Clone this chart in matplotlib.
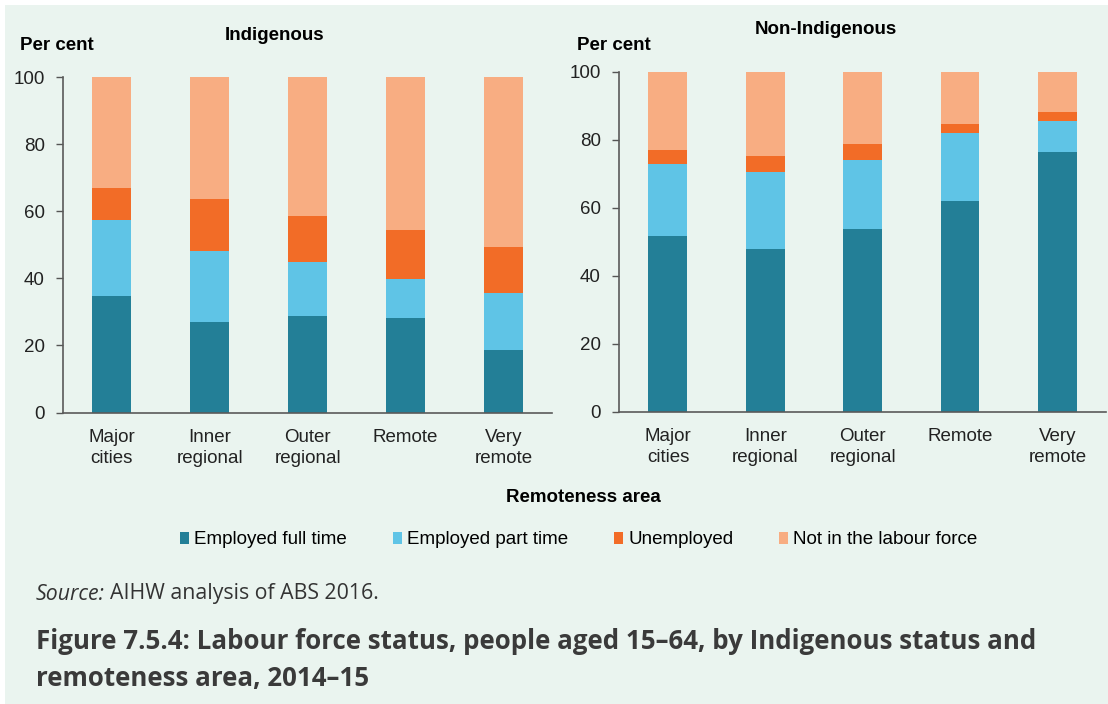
import numpy as np
import matplotlib.pyplot as plt
from matplotlib.patches import Patch, Rectangle

areas = ["Major\ncities", "Inner\nregional", "Outer\nregional", "Remote", "Very\nremote"]
series = ["Employed full time", "Employed part time", "Unemployed", "Not in the labour force"]
colors = ["#237f97", "#5fc4e6", "#f26c27", "#f8ad82"]

# per cent of people aged 15-64 in each labour force group
indig_ft = [34.8, 27.1, 28.9, 28.2, 18.5]
indig_pt = [22.5, 21.1, 16.1, 11.6, 17.0]
indig_un = [9.6, 15.4, 13.5, 14.7, 13.7]
indig_nlf = [33.1, 36.4, 41.5, 45.5, 50.8]

non_ft = [51.6, 47.7, 53.8, 61.9, 76.3]
non_pt = [21.2, 22.9, 20.1, 20.1, 9.1]
non_un = [4.1, 4.7, 4.7, 2.5, 2.6]
non_nlf = [23.1, 24.7, 21.4, 15.5, 12.0]

bg = "#eaf4ef"
fs = 13.5
plt.rcParams["font.family"] = ["Liberation Sans", "DejaVu Sans"]

W, H = 1108, 704
fig = plt.figure(figsize=(W / 100, H / 100), dpi=100, facecolor="white")
fig.patches.append(Rectangle((5 / W, 0), 1 - 5 / W, 1 - 5 / H,
                             transform=fig.transFigure, facecolor=bg,
                             edgecolor="none", zorder=-10))

ax1 = fig.add_axes([62.7 / W, 1 - 412.5 / H, 489 / W, 335.5 / H])
ax2 = fig.add_axes([619 / W, 1 - 411.5 / H, 487 / W, 339.8 / H])


def stacked(ax, parts, xlim, width):
    x = np.arange(len(areas))
    bottom = np.zeros(len(areas))
    for vals, c in zip(parts, colors):
        ax.bar(x, vals, width, bottom=bottom, color=c, edgecolor="none")
        bottom += np.array(vals)
    ax.set_xlim(*xlim)
    ax.set_ylim(0, 100)
    ax.set_yticks(range(0, 101, 20))
    ax.set_xticks(x)
    ax.set_xticklabels(areas, fontsize=fs, color="#222222", linespacing=1.32)
    ax.tick_params(axis="x", length=0, pad=12)
    ax.tick_params(axis="y", length=5, width=1, color="#555555",
                   labelsize=fs, labelcolor="#222222", pad=8)
    ax.set_facecolor("none")
    for s in ["top", "right"]:
        ax.spines[s].set_visible(False)
    for s in ["left", "bottom"]:
        ax.spines[s].set_color("#5a5a5a")
        ax.spines[s].set_linewidth(1.2)


stacked(ax1, [indig_ft, indig_pt, indig_un, indig_nlf], (-0.50, 4.49), 0.40)
stacked(ax2, [non_ft, non_pt, non_un, non_nlf], (-0.503, 4.50), 0.40)

fig.text(20 / W, 1 - 46 / H, "Per cent", fontsize=fs, fontweight="bold", va="center")
fig.text(275 / W, 1 - 36 / H, "Indigenous", fontsize=fs, fontweight="bold",
         ha="center", va="center")
fig.text(577 / W, 1 - 45 / H, "Per cent", fontsize=fs, fontweight="bold", va="center")
fig.text(826 / W, 1 - 30 / H, "Non-Indigenous", fontsize=fs, fontweight="bold",
         ha="center", va="center")
fig.text(583 / W, 1 - 498 / H, "Remoteness area", fontsize=fs, fontweight="bold",
         ha="center", va="center")

handles = [Patch(facecolor=c, edgecolor="none") for c in colors]
fig.legend(handles, series, loc="center", bbox_to_anchor=(579 / W, 1 - 540 / H),
           ncol=4, frameon=False, fontsize=fs, handlelength=0.47, handleheight=0.55,
           handletextpad=0.28, columnspacing=2.45, borderpad=0)

src = fig.text(36 / W, 1 - 594 / H, "Source:", fontsize=15.3, style="italic",
               family="Open Sans", color="#333333", va="center")
fig.canvas.draw()
bb = src.get_window_extent()
fig.text((bb.x1 + 5) / W, 1 - 594 / H, "AIHW analysis of ABS 2016.", fontsize=15.3,
         family="Open Sans", color="#333333", va="center")
fig.text(36 / W, 1 - 660 / H,
         "Figure 7.5.4: Labour force status, people aged 15\u201364, by Indigenous status and\n"
         "remoteness area, 2014\u201315",
         fontsize=18.6, fontweight="bold", family="Open Sans", color="#3a3a3a",
         va="center", linespacing=1.45)

fig.savefig("out.png", dpi=100, facecolor=fig.get_facecolor())
